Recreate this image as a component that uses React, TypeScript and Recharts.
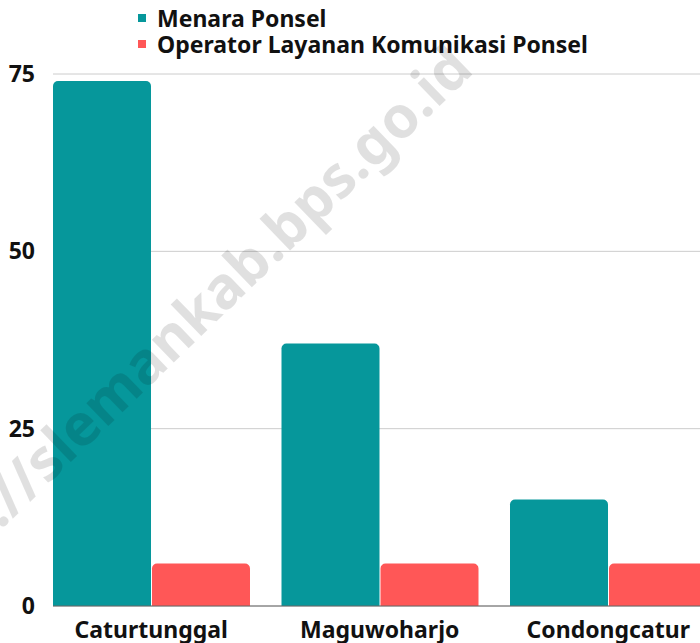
import { Bar, BarChart, CartesianGrid, XAxis, YAxis } from "recharts"

const categories = ["Caturtunggal", "Maguwoharjo", "Condongcatur"]
const menaraPonsel = [74, 37, 15]
const operatorLayanan = [6, 6, 6]
const yTicks = [0, 25, 50, 75]

const series = [
  { key: "menara", name: "Menara Ponsel", color: "#06979b" },
  { key: "operator", name: "Operator Layanan Komunikasi Ponsel", color: "#ff5757" },
]

const data = categories.map((name, i) => ({
  name,
  menara: menaraPonsel[i],
  operator: operatorLayanan[i],
}))

const font = '"Noto Sans", sans-serif'

function LegendBox() {
  return (
    <div
      style={{
        position: "absolute",
        left: 138,
        top: 5,
        fontFamily: font,
        fontWeight: 700,
        fontSize: 23,
        color: "#111",
        lineHeight: "26px",
      }}
    >
      {series.map((s) => (
        <div key={s.key} style={{ display: "flex", alignItems: "center", whiteSpace: "nowrap" }}>
          <span style={{ width: 8, height: 8, background: s.color, marginRight: 11, display: "inline-block" }} />
          <span>{s.name}</span>
        </div>
      ))}
    </div>
  )
}

export default function App() {
  return (
    <div
      style={{
        position: "fixed",
        left: 0,
        top: 0,
        width: 700,
        height: 643,
        overflow: "hidden",
        background: "#fff",
      }}
    >
      <BarChart
        width={740}
        height={643}
        data={data}
        margin={{ top: 74, right: 17.5, bottom: 7, left: 0 }}
        barGap={1}
        barCategoryGap={16}
      >
        <CartesianGrid vertical={false} stroke="#cccccc" />
        <XAxis
          dataKey="name"
          height={30}
          padding={{ left: -16, right: 0 }}
          tickLine={false}
          tickSize={0}
          tickMargin={16}
          axisLine={{ stroke: "#666666" }}
          tick={{ fill: "#111", fontSize: 23, fontWeight: 700, fontFamily: font }}
        />
        <YAxis
          width={53}
          domain={[0, 75]}
          ticks={yTicks}
          tickLine={false}
          axisLine={false}
          tickSize={0}
          tickMargin={18}
          tick={{ fill: "#111", fontSize: 23, fontWeight: 700, fontFamily: font }}
        />
        {series.map((s) => (
          <Bar
            key={s.key}
            dataKey={s.key}
            name={s.name}
            fill={s.color}
            radius={[5, 5, 0, 0]}
            isAnimationActive={false}
          />
        ))}
      </BarChart>
      <div
        style={{
          position: "absolute",
          left: 167,
          top: 338,
          transform: "translate(-50%, -50%) rotate(-44deg)",
          fontFamily: font,
          fontWeight: 700,
          fontSize: 58,
          color: "rgba(0,0,0,0.12)",
          whiteSpace: "nowrap",
          pointerEvents: "none",
        }}
      >
        https://slemankab.bps.go.id
      </div>
      <LegendBox />
    </div>
  )
}
